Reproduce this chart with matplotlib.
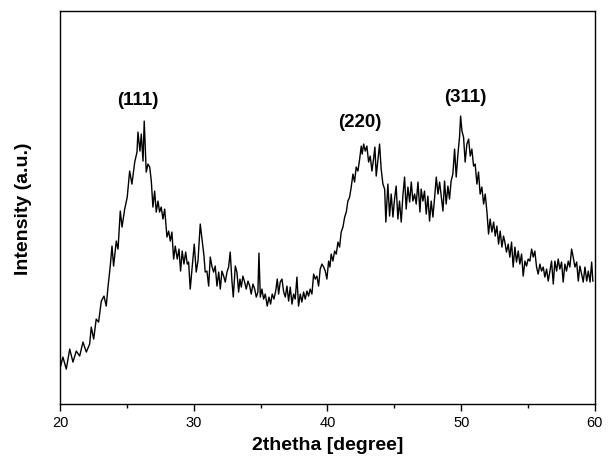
import matplotlib
matplotlib.use("Agg")
import matplotlib.pyplot as plt
from matplotlib.ticker import MultipleLocator

plt.rcParams['font.family'] = ['Liberation Sans', 'DejaVu Sans']

two_theta = [
    20.05, 20.22, 20.47, 20.73, 20.97, 21.22, 21.47, 21.72, 21.97, 22.22,
    22.34, 22.52, 22.71, 22.89, 23.09, 23.29, 23.46, 23.59, 23.76, 23.89,
    24.01, 24.21, 24.34, 24.51, 24.64, 24.84, 25.03, 25.21, 25.38, 25.59,
    25.76, 25.83, 25.98, 26.08, 26.21, 26.30, 26.45, 26.58,
    26.71, 26.83, 26.95, 27.08, 27.20, 27.33, 27.45, 27.57, 27.70, 27.83,
    28.00, 28.13, 28.25, 28.37, 28.50, 28.62, 28.77, 28.90, 29.02, 29.14,
    29.27, 29.40, 29.52, 29.62, 29.74, 29.89, 30.04, 30.19, 30.32, 30.49,
    30.64, 30.77, 30.86, 30.99, 31.12, 31.24, 31.36, 31.49, 31.61, 31.74,
    31.87, 31.99, 32.11, 32.24, 32.36, 32.49, 32.61, 32.73, 32.86, 32.96,
    33.11, 33.23, 33.36, 33.46,
    33.56, 33.68, 33.81, 33.93, 34.06, 34.19, 34.30, 34.43, 34.56, 34.68,
    34.80, 34.88, 34.98, 35.10, 35.23, 35.35, 35.50, 35.63, 35.75, 35.87,
    36.00, 36.13, 36.25, 36.35, 36.47, 36.60, 36.73, 36.85, 36.97, 37.10,
    37.22, 37.35, 37.47, 37.59, 37.72, 37.84, 37.97, 38.09, 38.22, 38.34,
    38.47, 38.59, 38.71, 38.84, 38.97, 39.09, 39.21, 39.34, 39.46, 39.59,
    39.72, 39.84, 39.96, 40.09, 40.19,
    40.28, 40.41, 40.54, 40.66, 40.79, 40.91, 41.03, 41.16, 41.29, 41.41,
    41.53, 41.66, 41.78, 41.91, 42.03, 42.15, 42.28, 42.41, 42.53, 42.60,
    42.71, 42.83, 42.95, 43.08, 43.20, 43.33, 43.45, 43.55, 43.65, 43.78,
    43.90, 44.02, 44.15, 44.28, 44.37, 44.52, 44.65, 44.77, 44.90, 45.02,
    45.14, 45.27, 45.39, 45.52, 45.64, 45.77, 45.89, 46.02, 46.15, 46.27,
    46.39, 46.52, 46.64, 46.77, 46.92,
    47.01, 47.14, 47.26, 47.39, 47.51, 47.64, 47.76, 47.89, 48.02, 48.14,
    48.27, 48.39, 48.51, 48.64, 48.76, 48.88, 49.01, 49.13, 49.25, 49.38,
    49.51, 49.63, 49.76, 49.88, 49.96, 50.06, 50.18, 50.30, 50.43, 50.56,
    50.68, 50.80, 50.93, 51.05, 51.18, 51.30, 51.42, 51.55, 51.68, 51.80,
    51.93, 52.05, 52.17, 52.30, 52.43, 52.55, 52.67, 52.80, 52.92, 53.05,
    53.17,
    53.27, 53.39, 53.52, 53.64, 53.77, 53.89, 54.02, 54.14, 54.27, 54.39,
    54.52, 54.64, 54.77, 54.89, 55.01, 55.14, 55.27, 55.39, 55.51, 55.64,
    55.76, 55.89, 56.01, 56.14, 56.26, 56.39, 56.51, 56.64, 56.76, 56.89,
    57.01, 57.14, 57.26, 57.38, 57.51, 57.63, 57.76, 57.88, 58.01, 58.13,
    58.26, 58.38, 58.51, 58.64, 58.76, 58.88, 59.01, 59.13, 59.26, 59.39,
    59.51, 59.64, 59.76, 59.85,
]

intensity = [
    38, 47, 35, 55, 42, 53, 48, 62, 52, 60,
    77, 65, 85, 82, 103, 108, 98, 117, 138, 158,
    138, 163, 155, 193, 177, 195, 207, 233, 220, 242,
    252, 272, 253, 270, 243, 283, 232, 240,
    237, 223, 197, 213, 192, 203, 192, 197, 185, 195,
    167, 173, 163, 172, 145, 158, 145, 155, 133, 153,
    140, 152, 140, 142, 115, 138, 160, 132, 143, 180,
    163, 148, 132, 133, 118, 147, 138, 132, 138, 118,
    132, 115, 133, 128, 122, 132, 137, 152, 123, 107,
    138, 132, 112, 125,
    117, 128, 122, 115, 123, 118, 110, 120, 115, 107,
    112, 151, 107, 115, 105, 110, 98, 107, 100, 110,
    105, 113, 125, 110, 122, 125, 112, 107, 118, 103,
    117, 100, 110, 105, 127, 98, 110, 102, 112, 105,
    113, 108, 115, 110, 130, 125, 128, 118, 135, 140,
    137, 133, 125, 143, 137,
    150, 143, 153, 150, 162, 157, 172, 177, 187, 192,
    203, 207, 217, 230, 222, 237, 233, 245, 258, 250,
    260, 253, 258, 242, 248, 233, 245, 257, 228, 245,
    260, 235, 220, 215, 182, 220, 188, 210, 187, 205,
    218, 185, 203, 182, 208, 227, 195, 217, 202, 222,
    203, 210, 200, 222, 192,
    215, 203, 213, 190, 208, 183, 203, 187, 207, 227,
    210, 222, 208, 193, 223, 200, 218, 205, 223, 230,
    255, 227, 250, 267, 288, 273, 267, 242, 260, 265,
    248, 255, 238, 240, 220, 232, 210, 217, 200, 210,
    192, 170, 185, 172, 182, 168, 178, 160, 173, 157,
    168,
    162, 152, 160, 147, 162, 137, 157, 142, 153, 140,
    150, 128, 143, 138, 145, 143, 155, 147, 153, 137,
    130, 140, 133, 137, 127, 135, 123, 133, 143, 120,
    143, 133, 145, 135, 142, 122, 140, 133, 143, 137,
    155, 147, 137, 142, 123, 138, 130, 122, 137, 123,
    133, 122, 142, 123,
]

peak_labels = ["(111)", "(220)", "(311)"]
peak_pos = [25.83, 42.43, 50.28]
peak_lab_y = [305, 283, 308]

x_ticks = [20, 30, 40, 50, 60]

fig = plt.figure(figsize=(6.12, 4.64), dpi=100)
ax = fig.add_axes([0.098, 0.127, 0.874, 0.847])
ax.plot(two_theta, intensity, color='black', linewidth=1.0)

for lab, xp, yp in zip(peak_labels, peak_pos, peak_lab_y):
    ax.text(xp, yp, lab, ha='center', va='center', fontsize=13.5,
            fontweight='bold', color='black')

ax.set_xlim(20, 60)
ax.set_ylim(0, 393)
ax.set_xticks(x_ticks)
ax.xaxis.set_minor_locator(MultipleLocator(5))
ax.set_yticks([])
ax.tick_params(axis='x', which='major', direction='out', length=5, width=1,
               labelsize=10.5, pad=3)
ax.tick_params(axis='x', which='minor', direction='out', length=3, width=1)
for s in ax.spines.values():
    s.set_linewidth(1.0)
ax.set_xlabel("2thetha [degree]", fontsize=14, fontweight='bold', labelpad=5)
ax.set_ylabel("Intensity (a.u.)", fontsize=14, fontweight='bold', labelpad=20)

fig.savefig("out.png", dpi=100)
